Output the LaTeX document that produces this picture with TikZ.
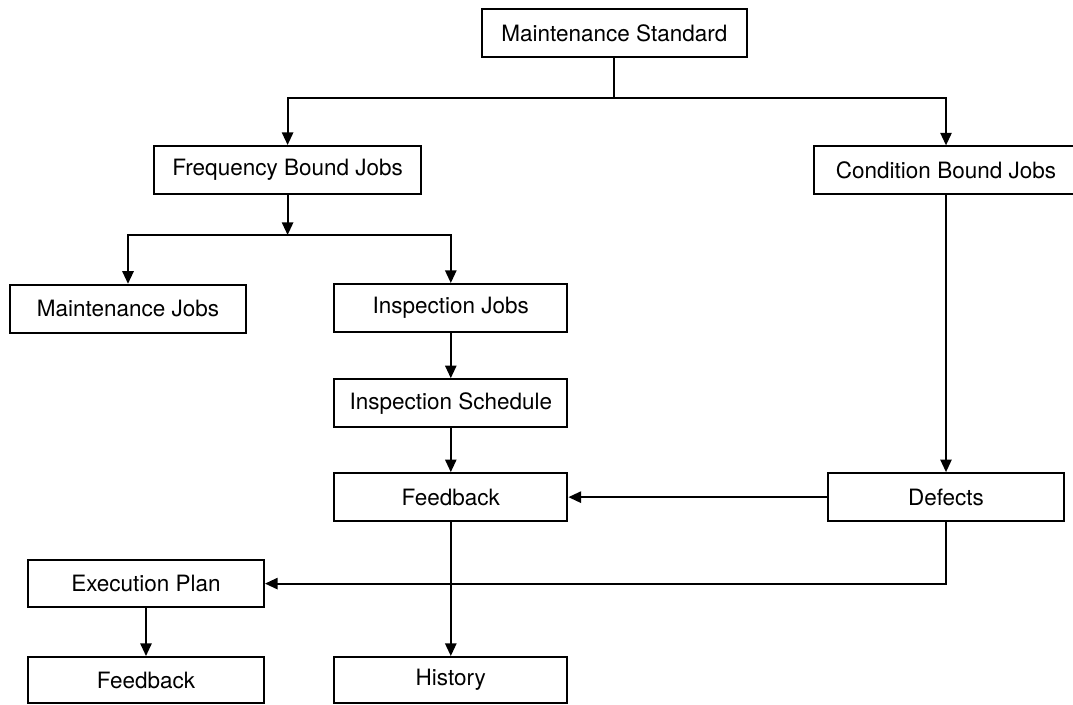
\documentclass[tikz,border=0pt]{standalone}
\usepackage{fontspec}
\setmainfont{TeX Gyre Heros}
\usepackage{tikz}
\usetikzlibrary{arrows.meta,positioning}

\begin{document}
\begin{tikzpicture}[>={Triangle[length=9pt,width=8pt]},line width=1.4pt,
  font=\fontsize{16}{19}\selectfont,
  box/.style={draw,line width=1.4pt,inner sep=3pt,align=center,minimum width=5.9cm,minimum height=1.2cm},
  wbox/.style={box,minimum width=6.62cm}]
\useasboundingbox (0,0) rectangle (26.825,-17.6);
% top level
\node[wbox] (std) at (15.36,-0.83) {Maintenance Standard};
\node[wbox,minimum width=6.68cm] (freq) at (7.19,-4.25) {Frequency Bound Jobs};
\node[wbox,minimum width=6.6cm] (cond) at (23.65,-4.26) {Condition Bound Jobs};
\coordinate (stdsplit) at (15.36,-2.45);
\coordinate (freqsplit) at (7.19,-5.875);
% frequency bound branch
\node[box] (mjobs) at (3.2,-7.72) {Maintenance Jobs};
\node[box,minimum width=5.83cm] (ijobs) at (11.27,-7.7) {Inspection Jobs};
\node[box,minimum width=5.83cm,below=1.13cm of ijobs] (isched) {Inspection Schedule};
\node[box,minimum width=5.83cm,below=1.1cm of isched] (fback) {Feedback};
\node[box,minimum width=5.83cm,minimum height=1.15cm] (hist) at (11.27,-17.0) {History};
% condition bound branch
\node[box] (defects) at (fback -| cond) {Defects};
\node[box,minimum height=1.18cm] (plan) at (3.65,-14.59) {Execution Plan};
\node[box,minimum height=1.15cm] (fbplan) at (3.65,-17.0) {Feedback};
% connectors
\draw (std) -- (stdsplit);
\draw[->] (stdsplit) -| (freq);
\draw[->] (stdsplit) -| (cond);
\draw[->] (freq) -- (freqsplit);
\draw[->] (freqsplit) -| (mjobs);
\draw[->] (freqsplit) -| (ijobs);
\draw[->] (ijobs) -- (isched);
\draw[->] (isched) -- (fback);
\draw[->] (fback) -- (hist);
\draw[->] (cond) -- (defects);
\draw[->] (defects) -- (fback);
\draw[->] (defects.south) |- (plan.east);
\draw[->] (plan) -- (fbplan);
\end{tikzpicture}
\end{document}
